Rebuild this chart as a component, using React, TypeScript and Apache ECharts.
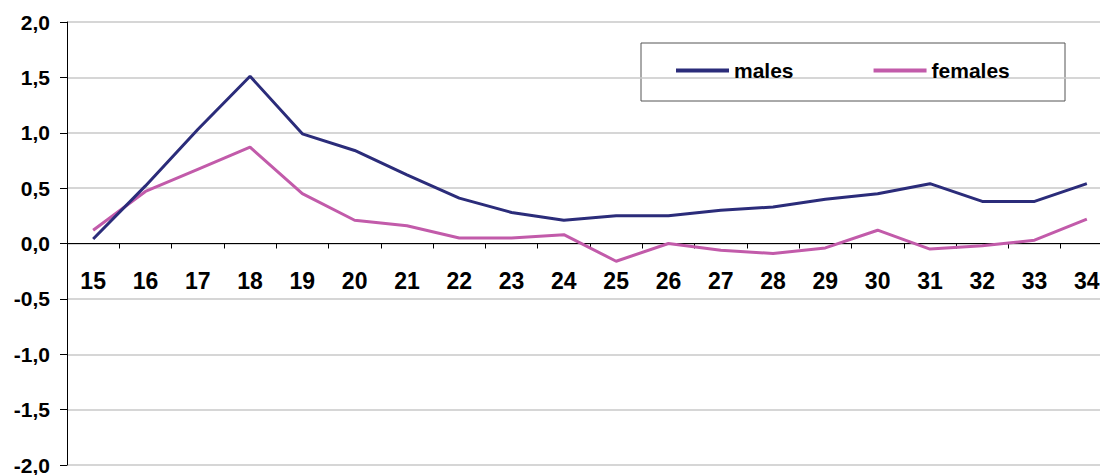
import React, { useEffect, useRef } from "react";
import * as echarts from "echarts";

const ages = ["15","16","17","18","19","20","21","22","23","24","25","26","27","28","29","30","31","32","33","34"];
const males = [0.04,0.52,1.03,1.51,0.99,0.84,0.62,0.41,0.28,0.21,0.25,0.25,0.30,0.33,0.40,0.45,0.54,0.38,0.38,0.54];
const females = [0.12,0.47,0.67,0.87,0.45,0.21,0.16,0.05,0.05,0.08,-0.16,0.00,-0.06,-0.09,-0.04,0.12,-0.05,-0.02,0.03,0.22];

const MALE_COLOR = "#2B2C7A";
const FEMALE_COLOR = "#C25BAA";

const GRID_TOP = 22;
const GRID_BOTTOM_Y = 465;

export default function App() {
  const ref = useRef<HTMLDivElement>(null);
  useEffect(() => {
    if (!ref.current) return;
    const chart = echarts.init(ref.current, undefined, { renderer: "svg" });
    const font = "'Liberation Sans', Arial, sans-serif";
    const zeroOffset = -(GRID_BOTTOM_Y - GRID_TOP) / 2;
    chart.setOption({
      animation: false,
      backgroundColor: "#ffffff",
      textStyle: { fontFamily: font },
      grid: {
        left: 67,
        top: GRID_TOP,
        bottom: 475 - GRID_BOTTOM_Y,
        right: -13,
        containLabel: false,
        outerBoundsMode: "none",
      },
      legend: {
        left: 676,
        top: 60,
        padding: 0,
        itemGap: 80,
        itemWidth: 53,
        itemHeight: 4,
        icon: "rect",
        textStyle: { fontSize: 21, fontWeight: "bold", color: "#000", fontFamily: font },
        data: ["males", "females"],
      },
      graphic: [
        {
          type: "rect",
          shape: { x: 641, y: 43, width: 424, height: 58 },
          style: { fill: "none", stroke: "#555", lineWidth: 1 },
          z: 0,
        },
      ],
      xAxis: {
        type: "category",
        data: ages,
        boundaryGap: true,
        offset: zeroOffset,
        axisLine: { onZero: false, lineStyle: { color: "#000", width: 1 } },
        axisTick: { show: true, alignWithLabel: false, length: 5, lineStyle: { color: "#000" } },
        axisLabel: { fontSize: 23, fontWeight: "bold", color: "#000", margin: 26, interval: 0, fontFamily: font },
        splitLine: { show: false },
      },
      yAxis: {
        type: "value",
        min: -2,
        max: 2,
        interval: 0.5,
        axisLine: { show: true, lineStyle: { color: "#000", width: 1 } },
        axisTick: { show: true, length: 7, lineStyle: { color: "#000" } },
        axisLabel: {
          fontSize: 21,
          fontWeight: "bold",
          color: "#000",
          margin: 17,
          fontFamily: font,
          formatter: (v: number) => v.toFixed(1).replace(".", ","),
        },
        splitLine: { show: true, lineStyle: { color: "#c8c8c8", width: 1.5 } },
      },
      series: [
        {
          name: "males",
          type: "line",
          data: males,
          symbol: "none",
          lineStyle: { color: MALE_COLOR, width: 3 },
          itemStyle: { color: MALE_COLOR },
          z: 3,
        },
        {
          name: "females",
          type: "line",
          data: females,
          symbol: "none",
          lineStyle: { color: FEMALE_COLOR, width: 3 },
          itemStyle: { color: FEMALE_COLOR },
          z: 2,
        },
      ],
    });
    return () => chart.dispose();
  }, []);
  return (
    <div
      ref={ref}
      style={{ position: "fixed", left: 0, top: 0, width: 1100, height: 475, background: "#fff" }}
    />
  );
}
